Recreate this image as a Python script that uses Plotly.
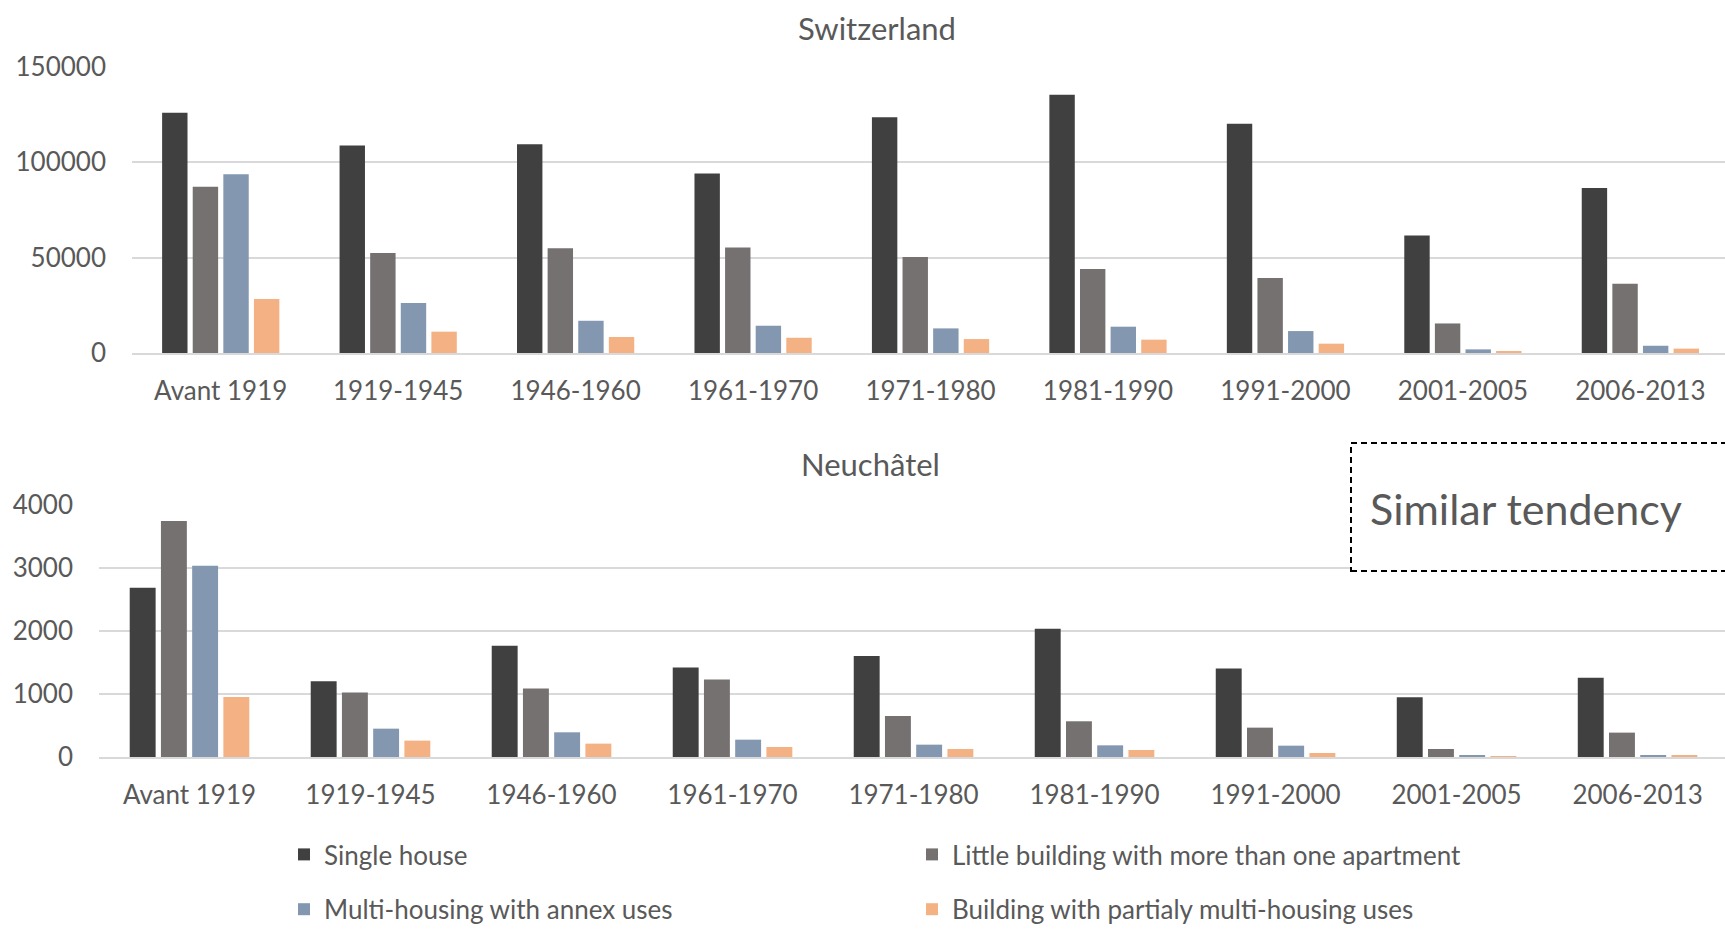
import plotly.graph_objects as go

# Construction periods (shared by both panels)
periods = ["Avant 1919", "1919-1945", "1946-1960", "1961-1970", "1971-1980",
           "1981-1990", "1991-2000", "2001-2005", "2006-2013"]

series_names = ["Single house",
                "Little building with more than one apartment",
                "Multi-housing with annex uses",
                "Building with partialy multi-housing uses"]
series_colors = ["#404040", "#767171", "#8497B0", "#F4B183"]

# Switzerland – number of buildings per period
ch_single = [126000, 108800, 109500, 94200, 123700, 135500, 120300, 61600, 86500]
ch_little = [87200, 52500, 54900, 55300, 50400, 44000, 39400, 15500, 36300]
ch_multi = [93800, 26200, 16900, 14300, 12900, 13800, 11500, 1900, 3800]
ch_partial = [28300, 11200, 8400, 8000, 7300, 7000, 4900, 1050, 2300]

# Neuchâtel – number of buildings per period
ne_single = [2686, 1203, 1764, 1420, 1605, 2034, 1404, 948, 1256]
ne_little = [3746, 1023, 1086, 1229, 652, 567, 466, 127, 387]
ne_multi = [3036, 450, 392, 275, 196, 185, 180, 26, 26]
ne_partial = [954, 260, 212, 159, 127, 111, 64, 5, 21]

ch_values = [ch_single, ch_little, ch_multi, ch_partial]
ne_values = [ne_single, ne_little, ne_multi, ne_partial]

W, H = 1725, 929
FONT = "Lato"
TXT = "#595959"
GRID = "#D9D9D9"


def px_x(x):
    return x / W


def px_y(y):
    return 1 - y / H


fig = go.Figure()

# legend placement: left column -> legend, right column -> legend2
legend_of = ["legend", "legend2", "legend", "legend2"]

for i, name in enumerate(series_names):
    fig.add_trace(go.Bar(
        x=periods, y=ch_values[i], name=name,
        marker=dict(color=series_colors[i], line=dict(width=0)),
        xaxis="x", yaxis="y",
        legendgroup=name, showlegend=True, legend=legend_of[i],
    ))
for i, name in enumerate(series_names):
    fig.add_trace(go.Bar(
        x=periods, y=ne_values[i], name=name,
        marker=dict(color=series_colors[i], line=dict(width=0)),
        xaxis="x2", yaxis="y2",
        legendgroup=name, showlegend=False, legend=legend_of[i],
    ))

axis_font = dict(family=FONT, size=26, color=TXT)

fig.update_layout(
    width=W, height=H,
    margin=dict(l=0, r=0, t=0, b=0, autoexpand=False),
    paper_bgcolor="white", plot_bgcolor="white",
    font=dict(family=FONT, color=TXT),
    barmode="group", bargap=0.31, bargroupgap=0.17,
    xaxis=dict(
        domain=[px_x(132), 1.0], anchor="y",
        type="category", categoryorder="array", categoryarray=periods,
        range=[-0.5, 8.477],
        showgrid=False, showline=True, linecolor=GRID, linewidth=2,
        ticks="", tickfont=axis_font, ticklabelstandoff=14,
    ),
    yaxis=dict(
        domain=[px_y(353), px_y(67)], anchor="x",
        range=[0, 150000], dtick=50000, tickformat="d",
        showgrid=True, gridcolor=GRID, gridwidth=2,
        zeroline=False, showline=False,
        ticks="", tickfont=axis_font, ticklabelstandoff=25,
    ),
    xaxis2=dict(
        domain=[px_x(99), 1.0], anchor="y2",
        type="category", categoryorder="array", categoryarray=periods,
        range=[-0.5, 8.483],
        showgrid=False, showline=True, linecolor=GRID, linewidth=2,
        ticks="", tickfont=axis_font, ticklabelstandoff=14,
    ),
    yaxis2=dict(
        domain=[px_y(757), px_y(505)], anchor="x2",
        range=[0, 4000], dtick=1000, tickformat="d",
        showgrid=True, gridcolor=GRID, gridwidth=2,
        zeroline=False, showline=False,
        ticks="", tickfont=axis_font, ticklabelstandoff=25,
    ),
    legend=dict(
        x=px_x(298 - 14), xanchor="left",
        y=px_y(831), yanchor="top",
        orientation="v", tracegroupgap=18,
        font=dict(family=FONT, size=26, color=TXT),
        bgcolor="rgba(0,0,0,0)",
    ),
    legend2=dict(
        x=px_x(926 - 14), xanchor="left",
        y=px_y(831), yanchor="top",
        orientation="v", tracegroupgap=18,
        font=dict(family=FONT, size=26, color=TXT),
        bgcolor="rgba(0,0,0,0)",
    ),
    showlegend=True,
)

# panel titles
fig.add_annotation(text="Switzerland", x=px_x(877), y=px_y(28),
                   xref="paper", yref="paper", xanchor="center", yanchor="middle",
                   showarrow=False, font=dict(family=FONT, size=31, color=TXT))
fig.add_annotation(text="Neuchâtel", x=px_x(871), y=px_y(464),
                   xref="paper", yref="paper", xanchor="center", yanchor="middle",
                   showarrow=False, font=dict(family=FONT, size=31, color=TXT))

# dashed call-out box
fig.add_shape(type="rect", xref="paper", yref="paper",
              x0=px_x(1351), x1=px_x(1740), y0=px_y(571), y1=px_y(443),
              line=dict(color="black", width=2, dash="6px,4px"),
              fillcolor="white", layer="above")
fig.add_annotation(text="Similar tendency", x=px_x(1368), y=px_y(508),
                   xref="paper", yref="paper", xanchor="left", yanchor="middle",
                   showarrow=False, font=dict(family=FONT, size=43, color=TXT))

fig.write_html("out.html")
